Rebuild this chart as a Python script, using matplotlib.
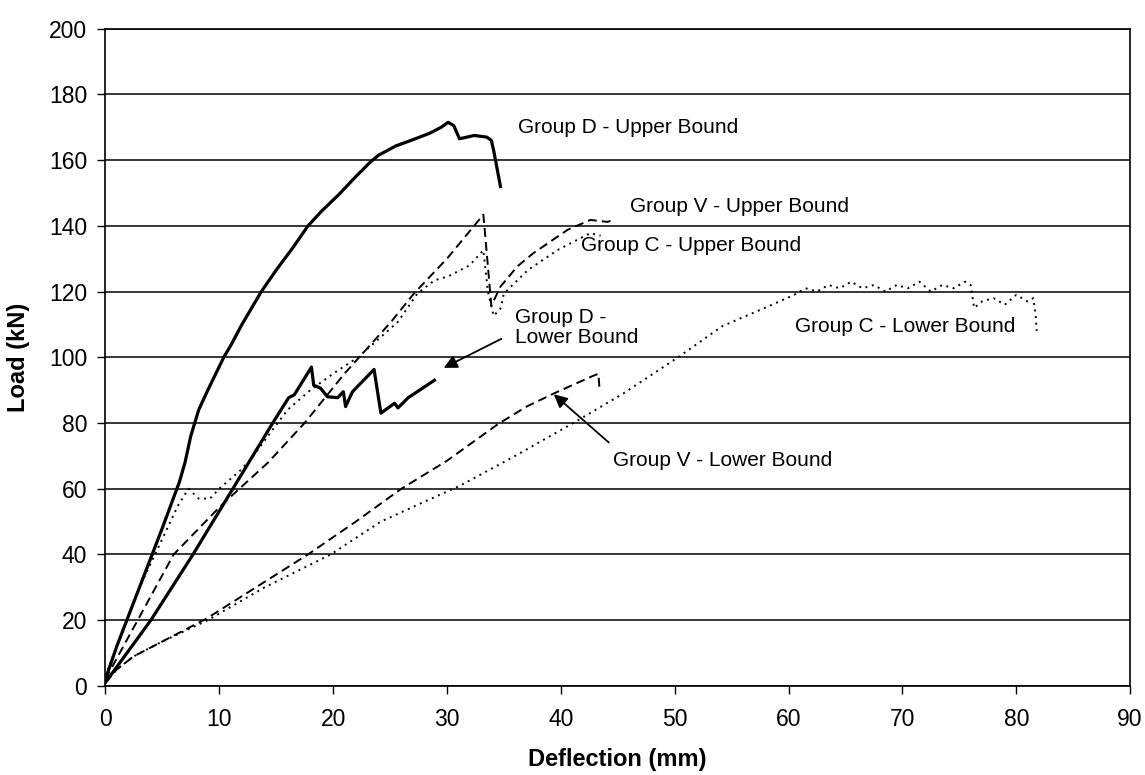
import numpy as np
import matplotlib
matplotlib.use('Agg')
import matplotlib.pyplot as plt

plt.rcParams['font.family'] = ['Liberation Sans', 'DejaVu Sans']

# Group D - upper bound (solid)
d_up_x = [0, 1, 3, 5, 6.5, 7, 7.5, 8.2, 9, 10.4, 11, 12, 13.7, 15, 16.5,
          17.8, 19, 20.5, 22, 23.3, 24, 25.5, 27, 28.5, 29.5, 30.1, 30.6,
          31.1, 32.4, 33.5, 33.9, 34.1, 34.7]
d_up_y = [2, 12, 30, 48, 62, 68, 76, 84, 90, 100, 103.5, 110, 120, 126.5,
          133.5, 140, 144.5, 149.5, 155, 159.5, 161.5, 164.3, 166.2, 168.2,
          170, 171.5, 170.5, 166.5, 167.5, 167, 166, 163, 152]

# Group D - lower bound (solid)
d_lo_x = [0, 4, 7.7, 11.9, 14.7, 16.1, 16.6, 18.1, 18.3, 18.9, 19.5, 20.4,
          20.9, 21.1, 21.7, 23.6, 24.2, 25.4, 25.7, 26.6, 28.9]
d_lo_y = [1, 20, 40, 64, 80, 87.7, 88.6, 97, 91.5, 90.6, 88, 87.7,
          89.5, 85, 89.5, 96.3, 83, 86, 84.6, 87.7, 93]

# Group V - upper bound (dashed)
v_up_x = [0, 6, 10.2, 14.3, 17.5, 21, 25.1, 27.1, 30, 32.1, 33.2,
          33.9, 34.7, 36.2, 37.6, 40.6, 42.6, 44.1, 44.6]
v_up_y = [2, 40, 55, 68, 80, 95, 110.8, 119.4, 130, 138.8, 143.4,
          115.7, 121.5, 127.7, 131.7, 138.8, 141.8, 141.2, 141.8]

# Group V - lower bound (dashed)
v_lo_x = [0, 1, 2.5, 5, 8.9, 13, 17.8, 22, 26, 30, 34.5, 37, 39.4, 42.6,
          43.3, 43.4]
v_lo_y = [1, 5, 9, 13.5, 20.5, 29.5, 40, 50, 60, 68.5, 79.7, 85, 89, 94,
          95, 90.5]

# Group C - upper bound (dotted)
c_up_x = [0, 3, 6.4, 7.3, 8.2, 9.2, 10, 11, 12, 13, 14.7, 16, 18, 20, 22.2,
          25.7, 27.4, 28.9, 30.1, 32, 33.2, 33.6, 34.1, 34.7, 35, 37.1, 39.7,
          42.6, 43.5]
c_up_y = [3, 30, 55, 60, 57, 57, 60, 63, 66, 70, 78, 84, 90, 95, 100,
          110.8, 119.4, 123.4, 124.6, 128, 132.6, 120, 112.6, 114.8, 119.4,
          126.5, 132.6, 137.8, 137]

# Group C - lower bound (dotted)
c_lo_x = [0, 1, 2.5, 5, 9, 14, 19.8, 24.2, 28, 31.2, 36, 41.1, 45.5, 50.3,
          54.2, 57.9, 60.5, 61.5, 62.5, 63.5, 64.5, 65.5, 66.5, 67.5, 68.5,
          69.5, 70.5, 71.5, 72.5, 73.5, 74.5, 75.5, 76.0, 76.3, 77.0, 78.0,
          79.0, 80.0, 81.0, 81.5, 81.7, 81.8]
c_lo_y = [1, 5, 9, 13.5, 20, 30, 40, 50, 56, 61, 70, 80, 89, 100,
          109.5, 115, 119, 121, 120, 122, 121, 123, 121, 122, 120,
          122, 121, 123, 120, 122, 121, 123, 122, 115, 117, 118,
          116, 119, 117, 118, 113, 108]

fig = plt.figure(figsize=(11.45, 7.75), dpi=100)
ax = fig.add_axes([0.092, 0.115, 0.895, 0.848])

ax.plot(d_up_x, d_up_y, color='black', lw=2.3, solid_joinstyle='round')
ax.plot(d_lo_x, d_lo_y, color='black', lw=2.3, solid_joinstyle='round')
ax.plot(v_up_x, v_up_y, color='black', lw=1.4, dashes=(4.6, 2.6))
ax.plot(v_lo_x, v_lo_y, color='black', lw=1.4, dashes=(4.6, 2.6))
ax.plot(c_up_x, c_up_y, color='black', lw=1.4, dashes=(1.0, 2.4))
ax.plot(c_lo_x, c_lo_y, color='black', lw=1.4, dashes=(1.0, 2.4))

ax.set_xlim(0, 90)
ax.set_ylim(0, 200)
ax.set_xticks(np.arange(0, 91, 10))
ax.set_yticks(np.arange(0, 201, 20))
ax.yaxis.grid(True, color='black', lw=1.1)
ax.set_axisbelow(True)
ax.tick_params(labelsize=16.5, length=6, width=1, direction='out')
ax.tick_params(axis='x', pad=10)
ax.tick_params(axis='y', pad=7)
for s in ax.spines.values():
    s.set_linewidth(1.2)

ax.set_xlabel('Deflection (mm)', fontsize=17, fontweight='bold', labelpad=12)
ax.set_ylabel('Load (kN)', fontsize=17, fontweight='bold', labelpad=14)

fs = 15
ax.text(36.2, 170, 'Group D - Upper Bound', fontsize=fs, va='center')
ax.text(46.1, 146, 'Group V - Upper Bound', fontsize=fs, va='center')
ax.text(41.8, 134, 'Group C - Upper Bound', fontsize=fs, va='center')
ax.text(36.0, 109, 'Group D -\nLower Bound', fontsize=fs, va='center',
        linespacing=1.1)
ax.text(60.6, 109.5, 'Group C - Lower Bound', fontsize=fs, va='center')
ax.text(44.6, 68.5, 'Group V - Lower Bound', fontsize=fs, va='center')

arrow = dict(arrowstyle='-|>', color='black', lw=1.3, mutation_scale=20)
ax.annotate('', xy=(29.5, 96.4), xytext=(35.0, 106), arrowprops=arrow)
ax.annotate('', xy=(39.2, 89.3), xytext=(44.4, 73.5), arrowprops=arrow)

fig.savefig('out.png', dpi=100)
